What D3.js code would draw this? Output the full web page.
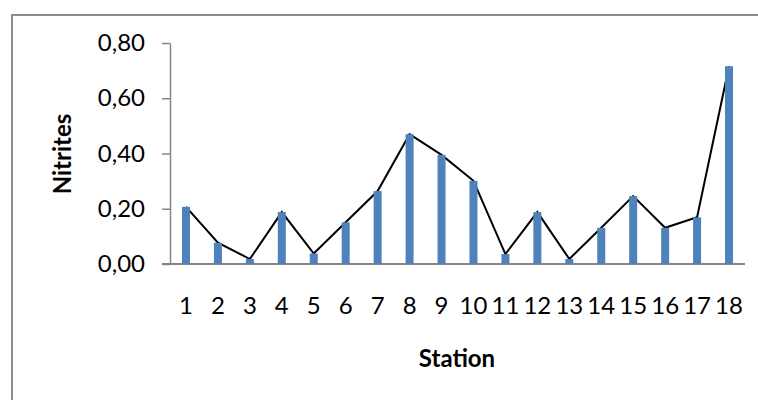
<!DOCTYPE html>
<meta charset="utf-8">
<style>
body { margin: 0; background: #fff; }
svg { display: block; }
.tick text { font-family: Lato, sans-serif; font-size: 24px; fill: #000; }
.title { font-family: Lato, sans-serif; font-size: 24px; font-weight: bold; }
</style>
<svg width="758" height="400"></svg>
<script src="https://cdn.jsdelivr.net/npm/d3@7"></script>
<script>

var stations = ["1","2","3","4","5","6","7","8","9","10","11","12","13","14","15","16","17","18"];
var nitrites = [0.207, 0.077, 0.018, 0.188, 0.038, 0.151, 0.264, 0.470, 0.395, 0.301,
                0.036, 0.188, 0.018, 0.131, 0.246, 0.131, 0.169, 0.716];
var yTicks = [0, 0.2, 0.4, 0.6, 0.8];

var svg = d3.select("svg");

// outer frame (runs off the right and bottom edges)
svg.append("rect")
    .attr("x", 12).attr("y", 15)
    .attr("width", 800).attr("height", 500)
    .attr("fill", "none")
    .attr("stroke", "#8c8c8c")
    .attr("stroke-width", 2);

var x = d3.scaleBand()
    .domain(stations)
    .range([170, 745]);

var y = d3.scaleLinear()
    .domain([0, 0.8])
    .range([264, 43]);

var fmt = function(d) { return d3.format(".2f")(d).replace(".", ","); };

var yAxis = svg.append("g")
    .attr("transform", "translate(170,0)")
    .call(d3.axisLeft(y).tickValues(yTicks).tickFormat(fmt).tickSize(8).tickSizeOuter(0).tickPadding(17));
yAxis.selectAll("line, path").attr("stroke", "#868686").attr("stroke-width", 1.5);

var xAxis = svg.append("g")
    .attr("transform", "translate(0,264)")
    .call(d3.axisBottom(x).tickSize(0).tickPadding(32));
xAxis.select(".domain").attr("d", "M162,0H745").attr("stroke", "#868686").attr("stroke-width", 2);
xAxis.selectAll(".tick text").attr("dy", "0");
xAxis.selectAll(".tick text").attr("y", 50);

var line = d3.line()
    .x(function(d, i) { return x(stations[i]) + x.bandwidth() / 2; })
    .y(function(d) { return y(d); });

svg.append("path")
    .datum(nitrites)
    .attr("fill", "none")
    .attr("stroke", "#000")
    .attr("stroke-width", 2)
    .attr("d", line);

var bw = 8;
svg.append("g")
  .selectAll("rect")
    .data(nitrites)
  .enter().append("rect")
    .attr("x", function(d, i) { return x(stations[i]) + x.bandwidth() / 2 - bw / 2; })
    .attr("y", function(d) { return y(d); })
    .attr("width", bw)
    .attr("height", function(d) { return y(0) - y(d); })
    .attr("fill", "#4f81bd");

svg.append("text")
    .attr("class", "title")
    .attr("x", 457).attr("y", 367)
    .attr("text-anchor", "middle")
    .text("Station");

svg.append("text")
    .attr("class", "title")
    .attr("transform", "translate(71,154) rotate(-90)")
    .attr("text-anchor", "middle")
    .text("Nitrites");

</script>
